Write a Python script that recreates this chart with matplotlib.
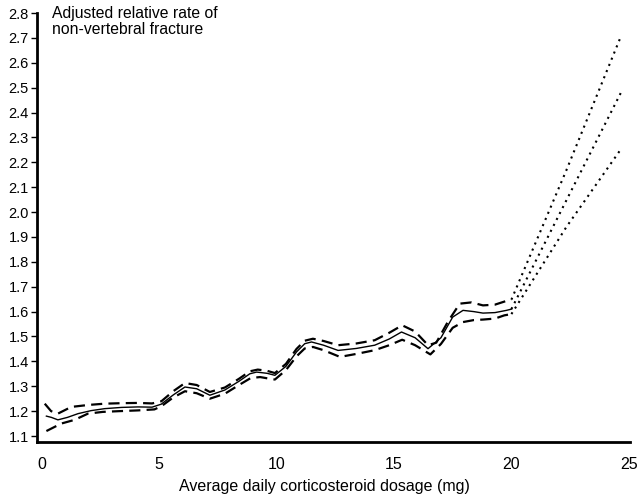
import matplotlib
matplotlib.use("Agg")
import matplotlib.pyplot as plt

plt.rcParams['font.family'] = ['Liberation Sans', 'DejaVu Sans']

# estimated rate (solid line)
dose = [0.2, 0.41, 0.69, 1.1, 1.55, 2.1, 2.68, 3.4, 4.1, 4.7, 5.09, 5.6, 6.1, 6.6,
        7.16, 7.8, 8.4, 8.86, 9.15, 9.6, 9.93, 10.4, 10.85, 11.2, 11.49, 12.0,
        12.62, 13.4, 14.18, 14.8, 15.32, 15.9, 16.45, 17.0, 17.5, 17.94, 18.4,
        18.79, 19.3, 19.79, 20.0]
rate = [1.18, 1.175, 1.165, 1.175, 1.19, 1.202, 1.21, 1.215, 1.217, 1.216, 1.228,
        1.265, 1.297, 1.29, 1.264, 1.285, 1.32, 1.35, 1.357, 1.352, 1.344, 1.38,
        1.438, 1.471, 1.478, 1.465, 1.444, 1.452, 1.465, 1.49, 1.518, 1.495,
        1.451, 1.495, 1.578, 1.605, 1.6, 1.594, 1.596, 1.605, 1.61]

# upper confidence limit (dashed)
up_dose = [0.13, 0.4, 0.69, 1.26, 2.0, 2.68, 3.4, 4.1, 4.7, 5.1, 5.6, 6.1, 6.6,
           7.16, 7.8, 8.4, 8.86, 9.2, 9.6, 9.93, 10.4, 10.85, 11.2, 11.55, 12.0,
           12.62, 13.4, 14.18, 14.8, 15.35, 15.9, 16.45, 16.8, 17.3, 17.8, 18.3,
           18.79, 19.3, 19.79, 20.0]
up_rate = [1.23, 1.2, 1.19, 1.217, 1.225, 1.23, 1.232, 1.233, 1.231, 1.24, 1.28,
           1.313, 1.305, 1.277, 1.295, 1.33, 1.36, 1.367, 1.362, 1.353, 1.39,
           1.45, 1.483, 1.491, 1.482, 1.465, 1.472, 1.485, 1.515, 1.545, 1.52,
           1.465, 1.475, 1.56, 1.632, 1.637, 1.625, 1.628, 1.643, 1.648]

# lower confidence limit (dashed)
lo_dose = [0.2, 0.41, 0.83, 1.4, 1.97, 2.6, 3.3, 4.1, 4.8, 5.1, 5.6, 6.1, 6.6,
           7.16, 7.8, 8.4, 8.9, 9.3, 9.6, 9.93, 10.4, 10.85, 11.2, 11.55, 12.0,
           12.7, 13.4, 14.18, 14.8, 15.35, 15.9, 16.55, 17.0, 17.5, 17.94, 18.4,
           18.79, 19.3, 19.7, 20.0]
lo_rate = [1.12, 1.13, 1.15, 1.165, 1.19, 1.197, 1.2, 1.203, 1.207, 1.22, 1.255,
           1.28, 1.272, 1.25, 1.27, 1.305, 1.333, 1.337, 1.332, 1.327, 1.365,
           1.42, 1.452, 1.458, 1.445, 1.418, 1.43, 1.445, 1.465, 1.487, 1.465,
           1.428, 1.47, 1.535, 1.558, 1.566, 1.568, 1.572, 1.585, 1.59]

# extrapolation beyond 20 mg (dotted)
ext_dose = [20.0, 22.34, 24.68]
ext_mid = [1.61, 2.047, 2.483]
ext_up = [1.648, 2.168, 2.71]
ext_lo = [1.59, 1.94, 2.255]

yticks = [1.1, 1.2, 1.3, 1.4, 1.5, 1.6, 1.7, 1.8, 1.9, 2.0, 2.1, 2.2, 2.3, 2.4,
          2.5, 2.6, 2.7, 2.8]
xticks = [0, 5, 10, 15, 20, 25]

fig = plt.figure(figsize=(6.37, 4.98), dpi=100)
ax = fig.add_axes([37 / 637, 56 / 498, 593 / 637, 429 / 498])

ax.plot(dose, rate, color='black', lw=1.0)
ax.plot(up_dose, up_rate, color='black', lw=1.6, dashes=(5, 2.8))
ax.plot(lo_dose, lo_rate, color='black', lw=1.6, dashes=(5, 2.8))
for ys in (ext_mid, ext_up, ext_lo):
    ax.plot(ext_dose, ys, color='black', lw=1.5, dashes=(1, 2.2))

ax.set_xlim(-0.2, 25.05)
ax.set_ylim(1.076, 2.8)
ax.set_yticks(yticks)
ax.set_yticklabels(['%.1f' % v for v in yticks], fontsize=10.5)
ax.set_xticks(xticks)
ax.set_xticklabels([str(v) for v in xticks], fontsize=11.5)
ax.tick_params(axis='y', direction='out', length=4, width=1, pad=2)
ax.tick_params(axis='x', length=0, pad=11)

for side in ('top', 'right'):
    ax.spines[side].set_visible(False)
for side in ('left', 'bottom'):
    ax.spines[side].set_linewidth(2)

fig.text(324 / 637, 1 - 486 / 498, 'Average daily corticosteroid dosage (mg)',
         fontsize=11.5, va='center', ha='center')
fig.text(52 / 637, 1 - 6 / 498, 'Adjusted relative rate of\nnon-vertebral fracture',
         fontsize=11.3, va='top', ha='left', linespacing=1.05)

fig.savefig('out.png', dpi=100)
